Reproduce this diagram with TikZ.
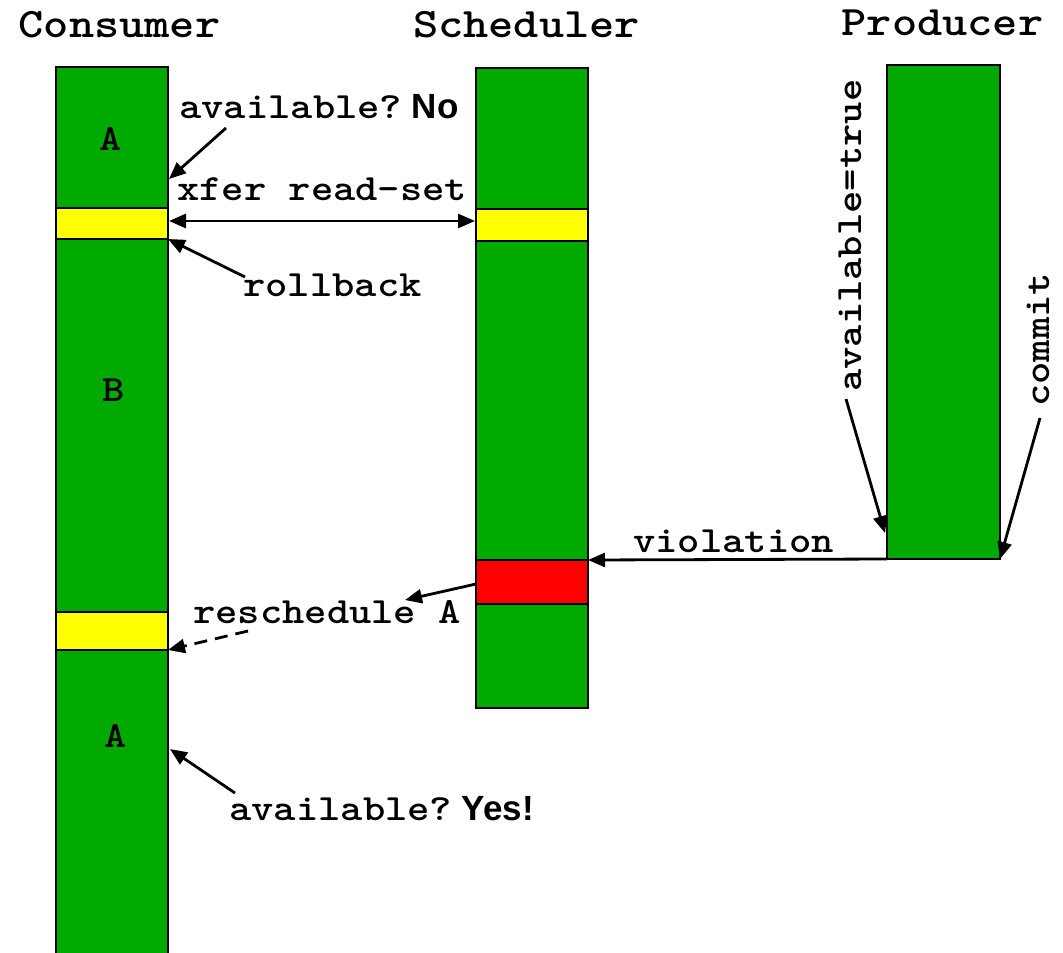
\documentclass[tikz,border=0pt]{standalone}
\usepackage{fontspec}
\newfontfamily\hvsans{Liberation Sans}
\usetikzlibrary{arrows.meta}
\definecolor{bargreen}{RGB}{0,170,0}
\definecolor{baryellow}{RGB}{255,255,0}
\definecolor{barred}{RGB}{255,0,0}
\tikzset{
  seg/.style={draw=black, line width=2.8pt, inner sep=0pt, outer sep=0pt, anchor=north west},
  cseg/.style={seg, minimum width=112pt},
  arr/.style={-{Triangle[length=17pt,width=14pt]}, line width=2.8pt},
  darr/.style={{Triangle[length=17pt,width=14pt]}-{Triangle[length=17pt,width=14pt]}, line width=2.8pt},
  title/.style={font=\fontsize{42}{48}\selectfont\ttfamily\bfseries, inner sep=0pt, anchor=base},
  lbl/.style={font=\fontsize{37}{42}\selectfont\ttfamily\bfseries, inner sep=0pt, anchor=base west},
  letter/.style={font=\fontsize{37}{42}\selectfont\ttfamily\bfseries, inner sep=0pt, anchor=base},
}
\newcommand{\tw}[1]{\scalebox{1.143}[1]{#1}}
\newcommand{\mt}[1]{\scalebox{1.148}[1]{#1}}
\newcommand{\sansword}[1]{{\fontsize{35}{40}\selectfont\hvsans\bfseries #1}}
\begin{document}
\begin{tikzpicture}[x=1pt,y=-1pt]
\useasboundingbox (0,0) rectangle (1063,953);
\clip (0,0) rectangle (1063,953);
\fill[white] (0,0) rectangle (1063,953);

% titles
\node[title] (tc) at (119.5,37) {\tw{Consumer}};
\node[title] (ts) at (526.5,37) {\tw{Scheduler}};
\node[title] (tp) at (942.5,35) {\tw{Producer}};

% consumer bar
\node[cseg, fill=bargreen, minimum height=141pt] (cA) at (56,67) {};
\node[cseg, fill=baryellow, minimum height=31pt] (cY1) at (56,208) {};
\node[cseg, fill=bargreen, minimum height=373pt] (cB) at (56,239) {};
\node[cseg, fill=baryellow, minimum height=38pt] (cY2) at (56,612) {};
\node[cseg, fill=bargreen, minimum height=320pt] (cA2) at (56,650) {};

% scheduler bar
\node[cseg, fill=bargreen, minimum height=141pt] (s1) at (476,68) {};
\node[cseg, fill=baryellow, minimum height=32pt] (sY) at (476,209) {};
\node[cseg, fill=bargreen, minimum height=319pt] (s2) at (476,241) {};
\node[cseg, fill=barred, minimum height=44pt] (sR) at (476,560) {};
\node[cseg, fill=bargreen, minimum height=104pt] (s3) at (476,604) {};

% producer bar
\node[seg, fill=bargreen, minimum width=113pt, minimum height=494pt] (prod) at (887,65) {};

% letters in bars
\node[letter] (la1) at (111,150) {\mt{A}};
\node[letter] (lb) at (114,401) {\mt{B}};
\node[letter] (la2) at (116,747) {\mt{A}};

% labels
\node[lbl] (lno) at (179,118) {\mt{available?}\sansword{ No}};
\node[lbl] (lxfer) at (177,200) {\mt{xfer read-set}};
\node[lbl] (lroll) at (243,296) {\mt{rollback}};
\node[lbl] (lres) at (193,623) {\mt{reschedule A}};
\node[lbl] (lyes) at (229,820) {\mt{available?}\sansword{ Yes!}};
\node[lbl] (lvio) at (633,552) {\mt{violation}};
\node[lbl, rotate=90] (lavt) at (861,392) {\mt{available=true}};
\node[lbl, rotate=90] (lcom) at (1049,407) {\mt{commit}};

% connector end points
\coordinate (noS) at (226,128);
\coordinate (noT) at (169,179);
\coordinate (xL) at (169,221);
\coordinate (xR) at (475,221);
\coordinate (rbS) at (245,277);
\coordinate (avS) at (846,399);
\coordinate (avT) at (885,533);
\coordinate (cmS) at (1040,418);
\coordinate (rsT) at (405,600);
\coordinate (rsS) at (476,584);
\coordinate (dS) at (248,631);
\coordinate (ysS) at (235,793);
\coordinate (ysT) at (170,749);

% connectors
\draw[arr] (noS) -- (noT);
\draw[darr] (xL) -- (xR);
\draw[arr] (rbS) -- (cY1.south east);
\draw[arr] (prod.south west) -- (sR.north east);
\draw[arr] (avS) -- (avT);
\draw[arr] (cmS) -- (prod.south east);
\draw[arr] (rsS) -- (rsT);
\draw[arr, dash pattern=on 13pt off 8pt] (dS) -- (cY2.south east);
\draw[arr] (ysS) -- (ysT);
\end{tikzpicture}
\end{document}
